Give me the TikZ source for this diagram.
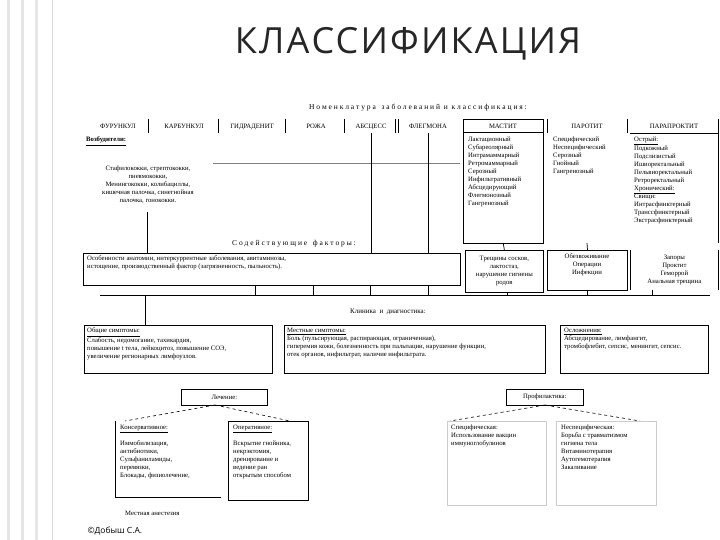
\documentclass[tikz,border=0pt]{standalone}
\usepackage{fontspec}
\setmainfont{Liberation Serif}
\newfontfamily\titlefont{Open Sans}
\newfontfamily\titlefontsp[LetterSpace=6]{Open Sans}
\begin{document}
\begin{tikzpicture}[x=1pt,y=-1pt,
  bx/.style={draw,line width=0.7pt,inner sep=0pt},
  tx/.style={font=\fontsize{6.7}{8}\selectfont,align=left,inner sep=0pt,anchor=north west},
  ctx/.style={font=\fontsize{6.7}{8}\selectfont,align=center,inner sep=0pt},
  hd/.style={font=\fontsize{6.7}{8}\selectfont,inner sep=0pt,anchor=base},
  ln/.style={line width=0.7pt},
  dl/.style={line width=0.6pt,dashed}]
\useasboundingbox (0,0) rectangle (720,540);
\fill[white] (0,0) rectangle (720,540);
% left decoration
\foreach \x in {8,22,36} \draw[gray!20,line width=3pt] (\x,0) -- (\x,540);
\draw[gray!30] (52,0) -- (52,540);
\node[font=\titlefontsp\fontsize{36}{40}\selectfont,text=black!85] (title) at (408,44) {КЛАССИФИКАЦИЯ};
\node[font=\fontsize{7.5}{9}\selectfont] (nom) at (418,108) {Н о м е н к л а т у р а \ \ з а б о л е в а н и й \ и \ к л а с с и ф и к а ц и я :};
% top row
\node[hd] (f1) at (118,129) {ФУРУНКУЛ};
\node[hd] (f2) at (184,129) {КАРБУНКУЛ};
\node[hd] (f3) at (252,129) {ГИДРАДЕНИТ};
\node[hd] (f4) at (316,129) {РОЖА};
\node[hd] (f5) at (371,129) {АБСЦЕСС};
\node[hd] (f6) at (428,129) {ФЛЕГМОНА};
\foreach \x in {148,218,285,344,395,398} \draw[ln] (\x,119) -- (\x,133);
\draw[gray,line width=0.6pt] (213,163) -- (460,163);
% Возбудители
\node[tx] (voz) at (86,137) {\underline{\textbf{Возбудители:}}};
\node[ctx,anchor=north] (vozt) at (148,166) {Стафилококки, стрептококки,\\пневмококки,\\Менингококки, колибациллы,\\кишечная палочка, синегнойная\\палочка, гонококки.};
\coordinate (vb) at (147,212);
% Mastitis etc
\node[bx,minimum width=80pt,minimum height=124pt,anchor=north west] (mast) at (463,119) {};
\node[hd] (mh) at (503,129) {МАСТИТ};
\draw[ln] (463,132) -- (543,132);
\node[tx] (mt) at (468,137) {Лактационный\\Субареолярный\\Интрамаммарный\\Ретромаммарный\\Серозный\\Инфильтративный\\Абсцедирующий\\Флегмонозный\\Гангренозный};
\node[hd] (ph) at (587,129) {ПАРОТИТ};
\draw[ln] (547,119) -- (547,133); \draw[ln] (627,119) -- (627,133);
\node[tx] (pt) at (553,137) {Специфический\\Неспецифический\\Серозный\\Гнойный\\Гангренозный};
\node[hd] (pph) at (674,129) {ПАРАПРОКТИТ};
\draw[ln] (630,133) -- (718,133);
\node[tx] (ppt) at (634,137) {\underline{Острый:}\\Подкожный\\Подслизистый\\Ишиоректальный\\Пельвиоректальный\\Ретроректальный\\\underline{Хронический:}\\Свищи:\\Интрасфинктерный\\Транссфинктерный\\Экстрасфинктерный};
\draw[ln] (718,119) -- (718,243);
% Содействующие
\node[font=\fontsize{7.5}{9}\selectfont] (sod) at (294,244) {С о д е й с т в у ю щ и е \ \ ф а к т о р ы :};
\node[bx,minimum width=377pt,minimum height=32pt,anchor=north west] (fac) at (83,253) {};
\node[tx] (fact) at (87,256) {Особенности анатомии, интеркуррентные заболевания, авитаминозы,\\истощение, производственный фактор (загрязненность, пыльность).};
\coordinate (a1) at (371,133); \coordinate (a2) at (428,133);
\draw[ln] (a1) -- (371,253); \draw[ln] (a2) -- (428,253);
\draw[ln] (vb) -- (147,253);
\node[bx,minimum width=78pt,minimum height=42pt,anchor=north west] (mf) at (465,250) {};
\node[ctx] (mft) at (mf) {Трещины сосков,\\лактостаз,\\нарушение гигиены\\родов};
\node[bx,line width=1pt,minimum width=80pt,minimum height=40pt,anchor=north west] (pf) at (547,250) {};
\node[ctx,anchor=north] (pft) at (587,254) {Обезвоживание\\Операции\\Инфекции};
\node[bx,draw=none,minimum width=88pt,minimum height=40pt,anchor=north west] (ppf) at (630,250) {};
\draw[ln] (630,250) -- (630,290); \draw[ln] (718,250) -- (718,290);
\node[ctx] (ppft) at (ppf) {Запоры\\Проктит\\Геморрой\\Анальная трещина};
\draw[ln] (mast.south) -- (mf.north);
\draw[ln] (587,243) -- (pf.north);
% bus
\draw[ln] (100,295) -- (710,295);
\foreach \x in {255,313,370,428} \draw[ln] (\x,285) -- (\x,295);
\draw[ln] (507,292) -- (507,295); \draw[ln] (587,290) -- (587,295); \draw[ln] (652,290) -- (652,295);
\node[font=\fontsize{7}{8}\selectfont] (kl) at (388,312) {Клиника \ и \ диагностика:};
\node[bx,minimum width=188pt,minimum height=48pt,anchor=north west] (ob) at (84,325) {};
\node[tx] (obt) at (87,328) {\underline{Общие симптомы:}\\Слабость, недомогание, тахикардия,\\повышение t тела, лейкоцитоз, повышение СОЭ,\\увеличение регионарных лимфоузлов.};
\node[bx,minimum width=261pt,minimum height=48pt,anchor=north west] (me) at (284,325) {};
\node[tx] (met) at (287,328) {\underline{Местные симптомы:}\\Боль (пульсирующая, распирающая, ограниченная),\\гиперемия кожи, болезненность при пальпации, нарушение функции,\\отек органов, инфильтрат, наличие инфильтрата.};
\node[bx,minimum width=148pt,minimum height=48pt,anchor=north west] (os) at (560,325) {};
\node[tx] (ost) at (564,328) {\underline{Осложнения:}\\Абсцедирование, лимфангит,\\тромбофлебит, сепсис, менингит, сепсис.};
\draw[ln] (145,295) -- (145,325);
% Лечение
\node[bx,minimum width=86pt,minimum height=16pt,anchor=north west] (le) at (181,389) {};
\node[hd,anchor=center] (let) at (le) {Лечение:};
\coordinate (lap) at (215,405);
\draw[dl] (lap) -- (125,421); \draw[dl] (lap) -- (290,421);
\node[bx,draw=none,minimum width=106pt,minimum height=86pt,anchor=north west] (ko) at (115,421) {};
\draw[ln] (115,421) -- (115,497) -- (221,497);
\node[tx] (kot) at (120,425) {\underline{Консервативное:}\\[7pt]Иммобилизация,\\антибиотики,\\Сульфаниламиды,\\перевязки,\\Блокады, физиолечение,};
\node[tx] (man) at (125,511) {Местная анестезия};
\node[bx,minimum width=80pt,minimum height=79pt,anchor=north west] (op) at (228,421) {};
\node[tx] (opt) at (233,425) {\underline{Оперативное:}\\[7pt]Вскрытие гнойника,\\некрэктомия,\\дренирование и\\ведение ран\\открытым способом};
% Профилактика
\node[bx,minimum width=77pt,minimum height=16pt,anchor=north west] (pr) at (506,389) {};
\node[hd,anchor=center] (prt) at (pr) {Профилактика:};
\coordinate (pap) at (545,405);
\draw[dl] (pap) -- (450,421); \draw[dl] (pap) -- (640,421);
\node[bx,draw=gray!40,minimum width=99pt,minimum height=84pt,anchor=north west] (sp) at (447,421) {};
\node[tx] (spt) at (451,425) {Специфическая:\\Использование вакцин\\иммуноглобулинов};
\node[bx,draw=gray!40,minimum width=100pt,minimum height=84pt,anchor=north west] (ns) at (556,421) {};
\node[tx] (nst) at (561,425) {Неспецифическая:\\Борьба с травматизмом\\гигиена тела\\Витаминотерапия\\Аутогемотерапия\\Закаливание};
\node[font=\titlefont\fontsize{8.5}{10}\selectfont,anchor=west] (cp) at (84,531) {©Добыш С.А.};
\end{tikzpicture}
\end{document}
